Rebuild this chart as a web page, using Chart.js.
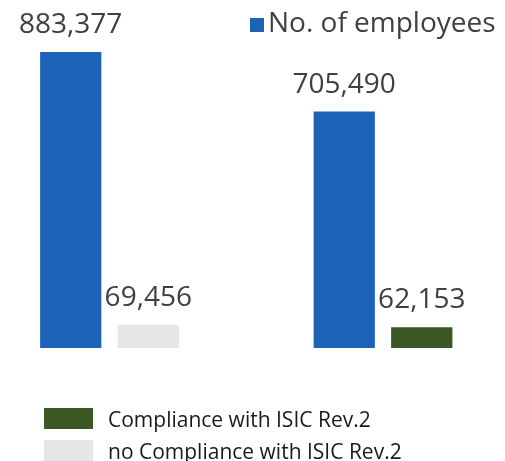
<!DOCTYPE html>
<html>
<head>
<meta charset="utf-8">
<script src="https://cdn.jsdelivr.net/npm/chart.js@4/dist/chart.umd.min.js"></script>
<style>
  html, body { margin: 0; padding: 0; background: #fff; }
  #wrap { width: 505px; height: 461px; position: relative; }
</style>
</head>
<body>
<div id="wrap"><canvas id="chart" width="505" height="461"></canvas></div>
<script>
// categories: group 1 has the grey bar, group 2 the green one
const categories = ["no Compliance with ISIC Rev.2", "Compliance with ISIC Rev.2"];
const employees = [883377, 705490];
const secondValues = [69456, 62153];
const secondColors = ["#E6E6E6", "#3B5724"];
const legendLabels = ["Compliance with ISIC Rev.2", "no Compliance with ISIC Rev.2"];
const legendColors = ["#3B5724", "#E6E6E6"];

const blue = "#1C63B7";
const labelFont = "28px 'Open Sans'";

// data labels above each bar + both legends
const labelsPlugin = {
    id: "labelsPlugin",
    afterDatasetsDraw(chart){
        const ctx = chart.ctx;
        ctx.save();
        ctx.font = labelFont;
        ctx.fillStyle = "#404040";
        ctx.textAlign = "center";
        ctx.textBaseline = "alphabetic";
        chart.data.datasets.forEach((ds, di)=>{
            let meta = chart.getDatasetMeta(di);
            meta.data.forEach((bar, i)=>{
                ctx.fillText(ds.data[i].toLocaleString("en-US"), bar.x, bar.y - 19);
            });
        });

        // top legend
        ctx.fillStyle = blue;
        ctx.fillRect(250, 18, 14, 14);
        ctx.fillStyle = "#404040";
        ctx.textAlign = "left";
        ctx.fillText("No. of employees", 268, 32);

        // bottom legend
        ctx.font = "21px 'Open Sans'";
        for(let i = 0; i < legendLabels.length; i++){
            let y = 408 + i * 32;
            ctx.fillStyle = legendColors[i];
            ctx.fillRect(44, y, 49, 21);
            ctx.fillStyle = "#1a1a1a";
            ctx.fillText(legendLabels[i], 108, y + 19);
        }
        ctx.restore();
    }
};

new Chart(document.getElementById("chart"), {
    type: "bar",
    data: {
        labels: categories,
        datasets: [{
            label: "No. of employees",
            data: employees,
            backgroundColor: blue,
            clip: false
        }, {
            label: "Second series",
            data: secondValues,
            backgroundColor: secondColors,
            clip: false
        }]
    },
    options: {
        responsive: false,
        animation: false,
        categoryPercentage: 0.567,
        barPercentage: 0.79,
        layout: {
            padding: { left: 109.5, right: 122, top: 52, bottom: 113 }
        },
        scales: {
            x: { display: false, offset: false },
            y: { display: false, min: 0, max: 883377 }
        },
        plugins: {
            legend: { display: false },
            tooltip: { enabled: false }
        }
    },
    plugins: [labelsPlugin]
});
</script>
</body>
</html>
